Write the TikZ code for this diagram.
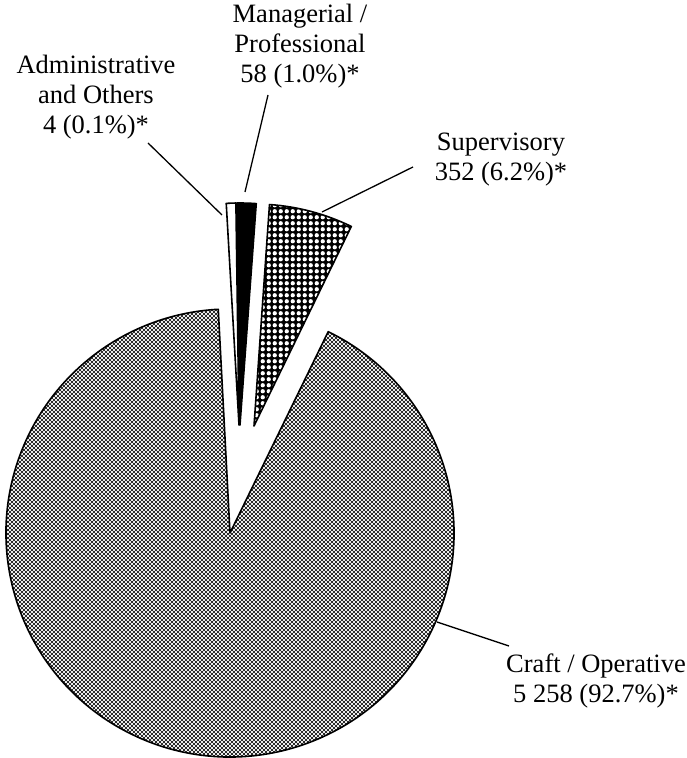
\documentclass[tikz,border=0pt]{standalone}
\usepackage{fontspec}
\setmainfont{Liberation Serif}
\usepackage{tikz}
\usetikzlibrary{patterns}

\pgfdeclarepatternformonly{craftgrid}{\pgfqpoint{-0.5pt}{-0.5pt}}{\pgfqpoint{4.5pt}{4.5pt}}{\pgfqpoint{4pt}{4pt}}{
\pgfsetlinewidth{0.62pt}
\pgfpathmoveto{\pgfqpoint{0pt}{0pt}}\pgfpathlineto{\pgfqpoint{4pt}{4pt}}
\pgfpathmoveto{\pgfqpoint{0pt}{4pt}}\pgfpathlineto{\pgfqpoint{4pt}{0pt}}
\pgfusepath{stroke}}
\pgfdeclarepatternformonly{supdots}{\pgfqpoint{0pt}{0pt}}{\pgfqpoint{6.2pt}{6.2pt}}{\pgfqpoint{6.2pt}{6.2pt}}{
\pgfpathcircle{\pgfqpoint{3.1pt}{3.1pt}}{2.4pt}
\pgfusepath{fill}}

\begin{document}
\begin{tikzpicture}[x=1pt, y=1pt, slice/.style = {draw, line width=1.6pt, line join=round}, lead/.style = {line width=1.3pt}, lbl/.style = {font=\fontsize{26.5}{30}\selectfont, align=center, inner sep=0pt}]
\useasboundingbox (0,0) rectangle (687,758);
\coordinate (c4) at (230,225);
\coordinate (c3) at (254,332);
\coordinate (c2) at (240,333);
\coordinate (c1) at (239,333);

\draw[slice, pattern=craftgrid] (c4) -- ++(64:224) arc[start angle=64, end angle=-267, radius=224] -- cycle;
\draw[slice, preaction={fill=black}, pattern=supdots, pattern color=white] (c3) -- ++(64:222) arc[start angle=64, end angle=86, radius=222] -- cycle;
\draw[slice, fill=white] (c1) -- ++(90.8:222) arc[start angle=90.8, end angle=93.3, radius=222] -- cycle;
\draw[slice, fill=black] (c2) -- ++(85.8:222) arc[start angle=85.8, end angle=90.8, radius=222] -- cycle;

\node[lbl] (1) at (96,661) {Administrative\\and Others\\4 (0.1\%)*};
\node[lbl] (2) at (300,712) {Managerial /\\Professional\\58 (1.0\%)*};
\node[lbl] (3) at (501,598) {Supervisory\\352 (6.2\%)*};
\node[lbl] (4) at (596,77) {Craft / Operative\\5 258 (92.7\%)*};

\coordinate (s1) at (148,615);
\coordinate (t1) at (222,543);
\coordinate (s2) at (268,663);
\coordinate (t2) at (245,566);
\coordinate (s3) at (413,591);
\coordinate (t3) at (322,546);
\coordinate (s4) at (509,112);
\coordinate (t4) at (437,136);
\draw[lead] (s1) -- (t1);
\draw[lead] (s2) -- (t2);
\draw[lead] (s3) -- (t3);
\draw[lead] (s4) -- (t4);

\end{tikzpicture}
\end{document}
